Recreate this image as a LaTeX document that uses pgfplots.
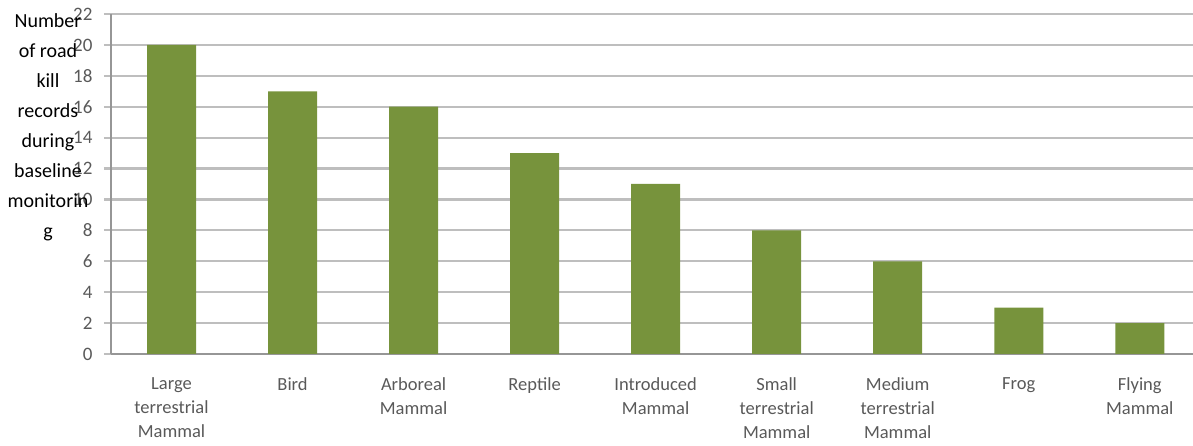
\documentclass[border=0pt]{standalone}
\usepackage{fontspec}
\setmainfont{Carlito}
\usepackage{pgfplots}
\pgfplotsset{compat=1.18}
\definecolor{bargreen}{RGB}{119,147,60}
\definecolor{gridgray}{RGB}{190,190,190}
\definecolor{axgray}{RGB}{150,150,150}
\definecolor{labgray}{RGB}{89,89,89}

\begin{document}
\begin{tikzpicture}
\begin{axis}[
    name=ax,
    scale only axis,
    width=1082pt,
    height=340pt,
    xmin=-0.5, xmax=8.44,
    ymin=0, ymax=22,
    axis x line*=bottom,
    axis y line*=left,
    axis line style={axgray, line width=1.5pt},
    ytick={0,2,...,22},
    xtick={0,...,8},
    xticklabels={Large\\terrestrial\\Mammal, Bird, Arboreal\\Mammal, Reptile, Introduced\\Mammal, Small\\terrestrial\\Mammal, Medium\\terrestrial\\Mammal, Frog, Flying\\Mammal},
    xticklabel style={align=center, anchor=north, yshift=-13pt, font=\fontsize{18.5}{24}\selectfont, text=labgray},
    yticklabel style={font=\fontsize{19}{20}\selectfont, text=labgray, xshift=-8pt},
    /pgf/number format/assume math mode=true,
    ymajorgrids,
    grid style={gridgray, line width=2.2pt},
    tick align=outside,
    major tick length=7pt,
    ytick style={gridgray, line width=2.2pt},
    xtick style={draw=none},
    extra x ticks={-0.5,0.5,1.5,2.5,3.5,4.5,5.5,6.5,7.5},
    extra x tick labels={},
    extra x tick style={grid=none, major tick length=6pt, tick style={axgray, line width=1.5pt}},
    ybar,
    bar width=49pt,
]
\addplot[fill=bargreen, draw=none] coordinates {
    (0,20) (1,17) (2,16) (3,13) (4,11) (5,8) (6,6) (7,3) (8,2)
};
\end{axis}
\node[anchor=north, align=center, inner sep=0pt, font=\fontsize{20}{30}\selectfont]
    at ([xshift=-63pt, yshift=1pt]ax.north west)
    {Number\\of road\\kill\\records\\during\\baseline\\monitorin\\g};
\pgfresetboundingbox
\path[use as bounding box] ([xshift=-111pt, yshift=-92pt]ax.south west) rectangle ++(1193pt, 446pt);
\end{tikzpicture}
\end{document}
